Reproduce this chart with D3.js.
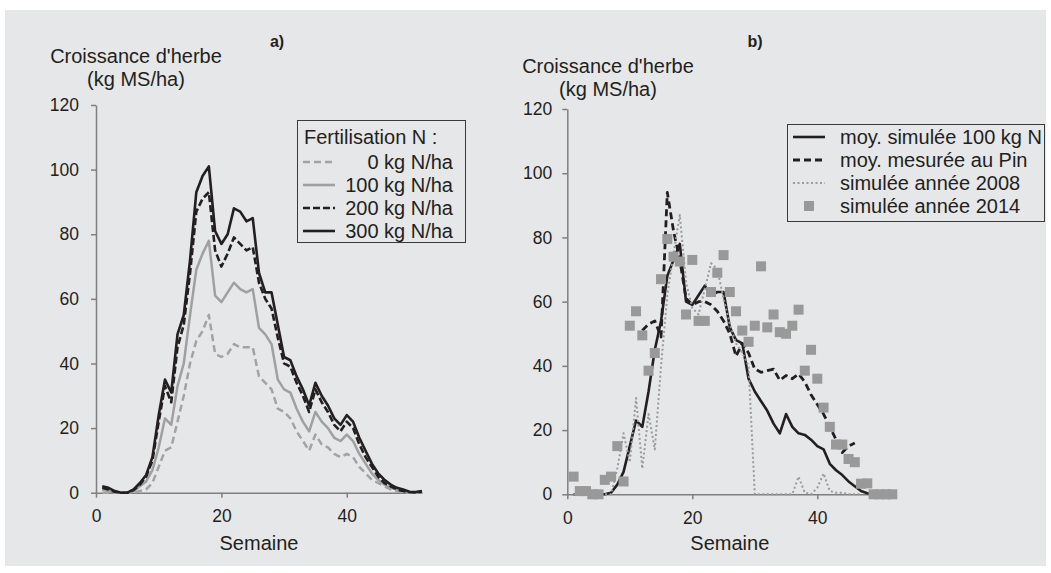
<!DOCTYPE html>
<html>
<head>
<meta charset="utf-8">
<script src="https://cdn.jsdelivr.net/npm/d3@7"></script>
<style>
body { margin: 0; background: #fff; }
text { font-family: "Liberation Sans", Arial, sans-serif; fill: #231f20; }
</style>
</head>
<body>
<script>
// semaines 1..52
var weeks = d3.range(1, 53);
var yTicks = [0, 20, 40, 60, 80, 100, 120];
var xTicks = [0, 20, 40];

// a) fertilisation N
var n0 = [0,0,0,0,0,0,0.5,1,3,8,13,14,22,30,40,47,50,55,43,42,43,46,45,45,45,36,34,32,26,25,23,19,16,13,18,15,14,12,11,12,11,8,6,4,3,2,1,0.5,0,0,0,0];
var n100 = [1,0.5,0,0,0,0.5,2,3.5,7,14,23,21,33,40,55,69,74,78,61,59,62,65,63,62,63,51,49,46,35,32,31,26,22,19,25,22,20,17,16,18,16,12,9,6,4,2.5,1.5,1,0.5,0,0,0];
var n200 = [1.5,1,0.3,0,0,0.8,2.5,5,10,22,33,28,45,52,68,87,91,93,75,70,74,79,77,75,76,65,60,57,48,40,39,34,30,25,32,28,25,21,19,22,20,15,11,8,5,3,2,1,0.5,0.2,0.1,0.3];
var n300 = [2,1.5,0.5,0,0,1,3,5.5,11,24,35,31,49,55,72,93,98,101,81,77,80,88,87,84,85,68,62,62,52,42,41,36,32,27,34,30,27,23,21,24,22,17,13,9,6,4,2.5,1.5,1,0.3,0.2,0.5];

// b) comparaison
var simMoy = [0,0,0,0,0,0,0.5,3,7,15,23,21,32,45,54,68,73,78,60,59,62,65,62,63,63,52,48,47,36,32,29,26,22,19,25,21,19,18.5,17,15,14,9.5,7.5,6,4,2.5,1,0.3,0,null,null,null];
var mesPin = [null,null,null,null,null,null,null,null,null,null,null,51,53,54,49,94,82,73,61,59,60,60,59,57,54,50,43,47,44,39,38,38.5,39,35.5,37,36,37.5,35,31,28,25,21,17,13,15,16,null,null,null,null,null,null];
var sim2008 = [0,0,0,0,0,0,0,8,19,10,30,8,25,14,40,62,75,87,66,58,56,64,72,70,61,53,47,44,40,0,0,0,0,0,0,0,5.5,0.5,0,2,6.5,1,0.5,0.5,0,0,0,null,null,null,null,null];
var sim2014 = [5.5,1,1,0,0,4.5,5.5,15,4,52.5,57,49.5,38.5,44,67,79.5,74,72.5,56,73,54,54,63,69,74.5,63,57,51,47.5,52.5,71,52,56,50.5,50,52.5,57.5,38.5,45,36,27,21,15.5,15.5,11,10,3.3,3.4,0,0,0,0];

var legendA = ["0 kg N/ha", "100 kg N/ha", "200 kg N/ha", "300 kg N/ha"];
var legendB = ["moy. simulée 100 kg N", "moy. mesurée au Pin", "simulée année 2008", "simulée année 2014"];

var width = 1051;
var height = 573;
var axisColor = "#7f7f7f";

var svg = d3.select("body").append("svg")
    .attr("width", width)
    .attr("height", height);

svg.append("rect")
    .attr("x", 5).attr("y", 10)
    .attr("width", 1041).attr("height", 556)
    .attr("fill", "#e6e7e8");

function pairs(arr) {
    return weeks.map(function(w, i) { return [w, arr[i]]; });
}

function drawAxes(x, y, labelGap) {
    var xAxis = d3.axisBottom(x).tickValues(xTicks).tickSizeInner(5).tickSizeOuter(0).tickPadding(12);
    var yAxis = d3.axisLeft(y).tickValues(yTicks).tickSizeInner(5).tickSizeOuter(0).tickPadding(labelGap);

    var yG = svg.append("g")
        .attr("transform", "translate(" + x(0) + ",0)")
        .call(yAxis);
    var xG = svg.append("g")
        .attr("transform", "translate(0," + y(0) + ")")
        .call(xAxis);

    [xG, yG].forEach(function(g) {
        g.select(".domain").attr("stroke", axisColor).attr("stroke-width", 1.5);
        g.selectAll(".tick line").attr("stroke", axisColor).attr("stroke-width", 1.5);
        g.selectAll(".tick text").attr("fill", "#231f20")
            .style("font-family", "'Liberation Sans', Arial, sans-serif")
            .style("font-size", "17.5px");
    });
}

function drawLine(x, y, arr, color, widthPx, dash) {
    var line = d3.line()
        .defined(function(d) { return d[1] != null; })
        .x(function(d) { return x(d[0]); })
        .y(function(d) { return y(d[1]); });
    svg.append("path")
        .datum(pairs(arr))
        .attr("d", line)
        .attr("fill", "none")
        .attr("stroke", color)
        .attr("stroke-width", widthPx)
        .attr("stroke-linejoin", "round")
        .attr("stroke-dasharray", dash);
}

function titles(cx, top, letterX) {
    svg.append("text").attr("x", cx).attr("y", top)
        .attr("text-anchor", "middle").style("font-size", "20px")
        .text("Croissance d'herbe");
    svg.append("text").attr("x", cx).attr("y", top + 23)
        .attr("text-anchor", "middle").style("font-size", "20px")
        .text("(kg MS/ha)");
    svg.append("text").attr("x", letterX).attr("y", 47)
        .attr("text-anchor", "middle").style("font-size", "16px").style("font-weight", "bold")
        .text(letterX < 500 ? "a)" : "b)");
}

// ---------- a) ----------
var xA = d3.scaleLinear().domain([0, 52]).range([96, 422]);
var yA = d3.scaleLinear().domain([0, 120]).range([492.7, 105]);

drawAxes(xA, yA, 12);
drawLine(xA, yA, n0, "#a3a3a3", 2.5, "7,4");
drawLine(xA, yA, n100, "#a0a0a0", 2.5, null);
drawLine(xA, yA, n200, "#231f20", 2.6, "7,3");
drawLine(xA, yA, n300, "#231f20", 2.6, null);

svg.append("text").attr("x", (xA(0) + xA(52)) / 2).attr("y", 550)
    .attr("text-anchor", "middle").style("font-size", "20px").text("Semaine");
titles(136, 63, 277);

// legend a
svg.append("rect").attr("x", 297.5).attr("y", 120.5).attr("width", 168).attr("height", 122)
    .attr("fill", "none").attr("stroke", "#3a3a3a").attr("stroke-width", 1);
svg.append("text").attr("x", 304).attr("y", 144).style("font-size", "20px").text("Fertilisation N :");
var stylesA = [
    { c: "#a3a3a3", d: "7,4" },
    { c: "#a0a0a0", d: null },
    { c: "#231f20", d: "7,3" },
    { c: "#231f20", d: null }
];
legendA.forEach(function(t, i) {
    var cy = 162 + i * 23;
    svg.append("line").attr("x1", 303).attr("x2", 335).attr("y1", cy).attr("y2", cy)
        .attr("stroke", stylesA[i].c).attr("stroke-width", 2.6).attr("stroke-dasharray", stylesA[i].d);
    svg.append("text").attr("x", 453).attr("y", cy + 7)
        .attr("text-anchor", "end").style("font-size", "20px").text(t);
});

// ---------- b) ----------
var xB = d3.scaleLinear().domain([0, 52]).range([567.3, 892.3]);
var yB = d3.scaleLinear().domain([0, 120]).range([494.3, 109]);

drawAxes(xB, yB, 10);
drawLine(xB, yB, simMoy, "#231f20", 2.6, null);
drawLine(xB, yB, mesPin, "#231f20", 2.8, "7,4");
drawLine(xB, yB, sim2008, "#9a9a9a", 2, "2,2.5");

svg.selectAll("rect.sq")
    .data(pairs(sim2014))
    .enter()
    .append("rect")
    .attr("class", "sq")
    .attr("x", function(d) { return xB(d[0]) - 5; })
    .attr("y", function(d) { return yB(d[1]) - 5; })
    .attr("width", 10)
    .attr("height", 10)
    .attr("fill", "#999999");

svg.append("text").attr("x", (xB(0) + xB(52)) / 2).attr("y", 550)
    .attr("text-anchor", "middle").style("font-size", "20px").text("Semaine");
titles(608, 73, 755);

// legend b
svg.append("rect").attr("x", 787.5).attr("y", 124.5).attr("width", 257).attr("height", 97)
    .attr("fill", "none").attr("stroke", "#3a3a3a").attr("stroke-width", 1);
var stylesB = [
    { c: "#231f20", d: null, w: 2.6 },
    { c: "#231f20", d: "7,4", w: 2.8 },
    { c: "#9a9a9a", d: "2,2.5", w: 2 }
];
legendB.forEach(function(t, i) {
    var cy = 137 + i * 23;
    if (i < 3) {
        svg.append("line").attr("x1", 793).attr("x2", 825).attr("y1", cy).attr("y2", cy)
            .attr("stroke", stylesB[i].c).attr("stroke-width", stylesB[i].w).attr("stroke-dasharray", stylesB[i].d);
    } else {
        svg.append("rect").attr("x", 804).attr("y", cy - 5).attr("width", 10).attr("height", 10).attr("fill", "#999999");
    }
    svg.append("text").attr("x", 840).attr("y", cy + 7).style("font-size", "20px").text(t);
});
</script>
</body>
</html>
